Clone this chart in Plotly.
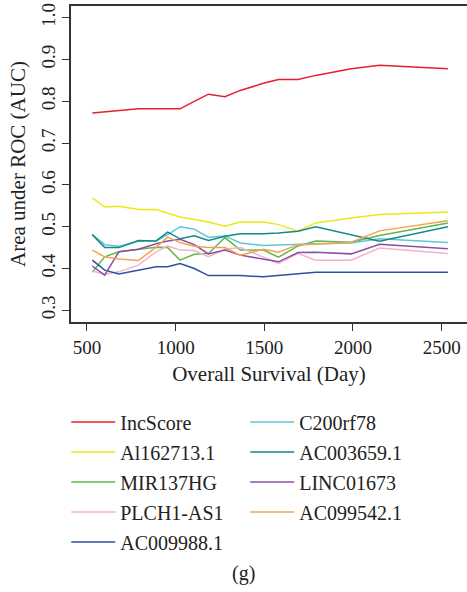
import plotly.graph_objects as go

days = [530, 600, 680, 790, 890, 955, 1025, 1105, 1185, 1278, 1365, 1495, 1580, 1690, 1790, 1990, 2150, 2535]

IncScore   = [0.772, 0.775, 0.778, 0.782, 0.782, 0.782, 0.782, 0.800, 0.817, 0.811, 0.826, 0.843, 0.852, 0.852, 0.862, 0.878, 0.886, 0.878]
Al162713_1 = [0.569, 0.547, 0.549, 0.541, 0.541, 0.532, 0.523, 0.517, 0.511, 0.501, 0.511, 0.511, 0.505, 0.489, 0.509, 0.521, 0.529, 0.535]
MIR137HG   = [0.391, 0.428, 0.440, 0.446, 0.451, 0.450, 0.420, 0.434, 0.436, 0.474, 0.444, 0.444, 0.427, 0.454, 0.466, 0.463, 0.479, 0.509]
PLCH1_AS1  = [0.394, 0.386, 0.392, 0.408, 0.440, 0.454, 0.444, 0.443, 0.428, 0.446, 0.450, 0.428, 0.412, 0.436, 0.420, 0.420, 0.449, 0.436]
AC009988_1 = [0.420, 0.396, 0.387, 0.396, 0.404, 0.404, 0.412, 0.400, 0.383, 0.383, 0.383, 0.380, 0.383, 0.387, 0.391, 0.391, 0.391, 0.391]
C200rf78   = [0.481, 0.457, 0.453, 0.465, 0.466, 0.481, 0.500, 0.494, 0.475, 0.478, 0.461, 0.455, 0.456, 0.458, 0.459, 0.461, 0.471, 0.462]
AC003659_1 = [0.481, 0.450, 0.450, 0.467, 0.466, 0.487, 0.471, 0.478, 0.467, 0.477, 0.483, 0.483, 0.485, 0.489, 0.500, 0.481, 0.465, 0.500]
LINC01673  = [0.406, 0.384, 0.440, 0.446, 0.459, 0.466, 0.470, 0.457, 0.435, 0.444, 0.432, 0.423, 0.416, 0.438, 0.439, 0.435, 0.458, 0.447]
AC099542_1 = [0.444, 0.428, 0.423, 0.419, 0.451, 0.475, 0.462, 0.453, 0.450, 0.450, 0.432, 0.446, 0.439, 0.457, 0.458, 0.463, 0.490, 0.514]

col1 = [("IncScore", IncScore, "#e8202a"),
        ("Al162713.1", Al162713_1, "#ece81a"),
        ("MIR137HG", MIR137HG, "#62b846"),
        ("PLCH1-AS1", PLCH1_AS1, "#f6b2cc"),
        ("AC009988.1", AC009988_1, "#2f4fa6")]
col2 = [("C200rf78", C200rf78, "#5ec8d8"),
        ("AC003659.1", AC003659_1, "#138a8a"),
        ("LINC01673", LINC01673, "#8b4ea6"),
        ("AC099542.1", AC099542_1, "#f7a055")]

FONT = "Liberation Serif"
fig = go.Figure()
for name, vals, c in col1:
    fig.add_trace(go.Scatter(x=days, y=vals, mode="lines", name=name, legend="legend",
                             legendgroup=name, line=dict(color=c, width=1.5)))
for name, vals, c in col2:
    fig.add_trace(go.Scatter(x=days, y=vals, mode="lines", name=name, legend="legend2",
                             legendgroup=name, line=dict(color=c, width=1.5)))

axis_common = dict(showline=True, linecolor="#333333", linewidth=1.5,
                   ticks="outside", ticklen=7, tickwidth=1.3, tickcolor="#333333",
                   showgrid=False, zeroline=False,
                   tickfont=dict(family=FONT, size=19, color="#222222"))

leg_common = dict(xanchor="left", yanchor="top", orientation="v", tracegroupgap=1,
                  itemwidth=44, bgcolor="rgba(0,0,0,0)",
                  font=dict(family=FONT, size=20, color="#222222"))

fig.update_layout(
    width=467, height=592,
    margin=dict(l=71, r=0, t=6, b=270),
    plot_bgcolor="white", paper_bgcolor="white",
    font=dict(family=FONT, size=19, color="#222222"),
    xaxis=dict(range=[410, 2643], tickvals=[500, 1000, 1500, 2000, 2500], mirror=True,
               title=dict(text="Overall Survival (Day)", font=dict(family=FONT, size=21), standoff=10),
               **axis_common),
    yaxis=dict(range=[0.272, 1.028], tickvals=[0.3, 0.4, 0.5, 0.6, 0.7, 0.8, 0.9, 1.0],
               ticktext=["0.3", "0.4", "0.5", "0.6", "0.7", "0.8", "0.9", "1.0"],
               tickangle=-90, mirror=False,
               title=dict(text="Area under ROC (AUC)", font=dict(family=FONT, size=21), standoff=6),
               **axis_common),
    legend=dict(x=-0.012, y=-0.255, **leg_common),
    legend2=dict(x=0.44, y=-0.255, **leg_common),
    annotations=[dict(text="(g)", x=0.435, y=-0.795, xref="paper", yref="paper",
                      xanchor="center", yanchor="middle", showarrow=False,
                      font=dict(family=FONT, size=20))],
    showlegend=True,
)

fig.write_html("out.html")
